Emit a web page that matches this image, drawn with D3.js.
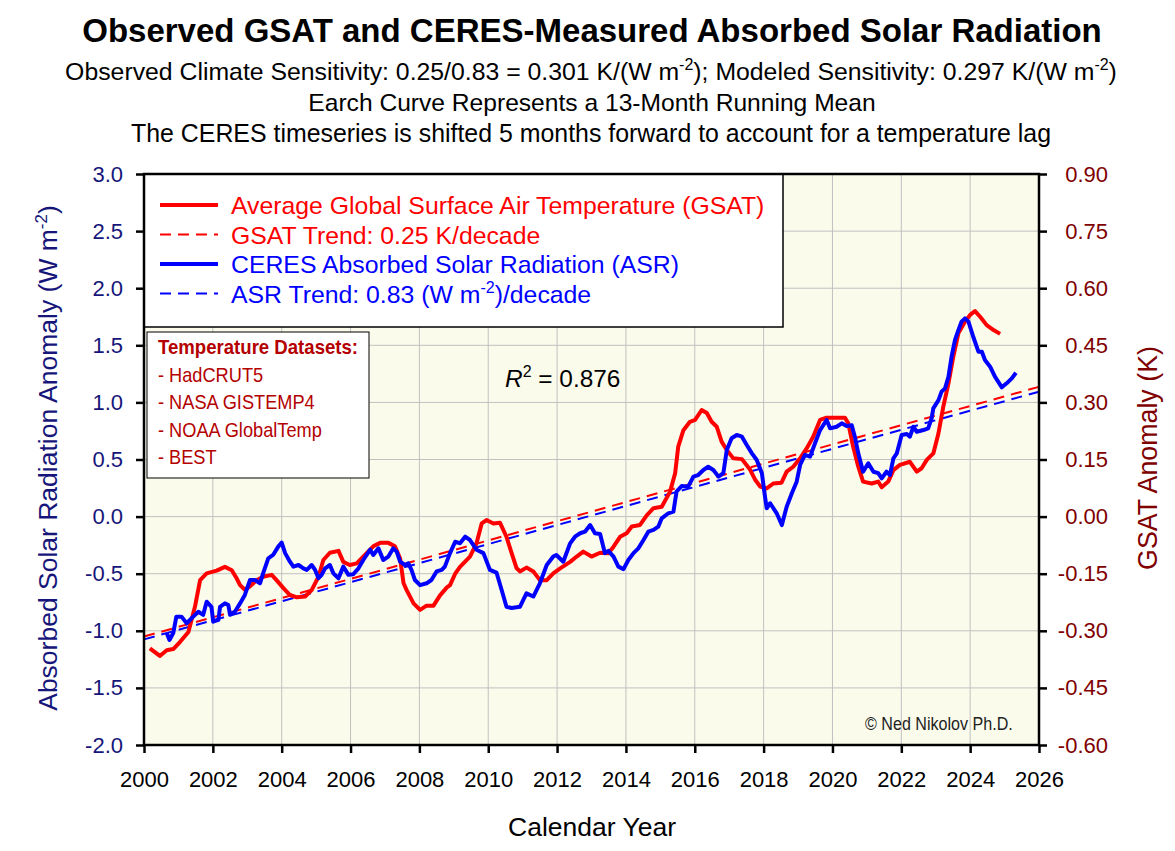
<!DOCTYPE html>
<html>
<head>
<meta charset="utf-8">
<script src="https://cdn.jsdelivr.net/npm/d3@7"></script>
<style>
	body { margin: 0; background: #fff; }
	text { font-family: "Liberation Sans", Arial, sans-serif; }
</style>
</head>
<body>
<div id="svg_container"></div>
<script>
/* -----------------------
data
------------------------- */

// 13-month running mean of GSAT (K)
var gsatYears = [2000.17,2000.46,2000.66,2000.85,2001.05,2001.29,2001.48,2001.63,2001.82,2002.11,2002.35,2002.55,2002.69,2002.79,2002.93,2003.08,2003.27,2003.46,2003.71,2003.85,2004.05,2004.24,2004.44,2004.68,2004.87,2005.07,2005.21,2005.40,2005.65,2005.79,2005.98,2006.18,2006.37,2006.66,2006.86,2007.10,2007.29,2007.44,2007.54,2007.63,2007.83,2008.02,2008.21,2008.41,2008.60,2008.80,2008.89,2009.04,2009.18,2009.47,2009.66,2009.81,2009.95,2010.15,2010.34,2010.53,2010.68,2010.82,2010.92,2011.11,2011.31,2011.50,2011.70,2011.89,2012.09,2012.38,2012.57,2012.76,2013.00,2013.25,2013.49,2013.64,2013.83,2014.02,2014.17,2014.41,2014.61,2014.80,2015.04,2015.28,2015.43,2015.52,2015.67,2015.86,2016.01,2016.20,2016.35,2016.49,2016.64,2016.78,2016.93,2017.12,2017.37,2017.61,2017.76,2017.90,2018.09,2018.28,2018.52,2018.67,2018.86,2019.06,2019.25,2019.44,2019.64,2019.83,2020.12,2020.36,2020.46,2020.60,2020.75,2020.89,2021.14,2021.33,2021.43,2021.62,2021.77,2021.96,2022.25,2022.45,2022.59,2022.74,2022.93,2023.08,2023.22,2023.37,2023.51,2023.66,2023.85,2024.00,2024.14,2024.29,2024.48,2024.68,2024.87];
var gsatK = [-0.346,-0.366,-0.351,-0.348,-0.329,-0.303,-0.237,-0.167,-0.149,-0.142,-0.132,-0.141,-0.162,-0.180,-0.192,-0.183,-0.167,-0.158,-0.153,-0.167,-0.188,-0.206,-0.212,-0.210,-0.193,-0.158,-0.114,-0.095,-0.090,-0.119,-0.127,-0.123,-0.105,-0.078,-0.069,-0.069,-0.078,-0.110,-0.175,-0.193,-0.228,-0.245,-0.234,-0.234,-0.207,-0.186,-0.180,-0.150,-0.132,-0.105,-0.070,-0.018,-0.009,-0.018,-0.016,-0.053,-0.096,-0.135,-0.144,-0.134,-0.144,-0.167,-0.167,-0.149,-0.136,-0.119,-0.105,-0.092,-0.105,-0.095,-0.096,-0.079,-0.053,-0.044,-0.026,-0.022,0.004,0.022,0.026,0.065,0.114,0.184,0.227,0.249,0.254,0.280,0.272,0.249,0.236,0.197,0.175,0.153,0.151,0.123,0.096,0.079,0.074,0.087,0.089,0.118,0.131,0.153,0.179,0.210,0.254,0.260,0.260,0.260,0.245,0.184,0.131,0.092,0.087,0.092,0.077,0.092,0.122,0.136,0.144,0.118,0.127,0.149,0.166,0.219,0.289,0.350,0.420,0.482,0.512,0.530,0.540,0.525,0.503,0.490,0.480];

// 13-month running mean of CERES ASR anomaly (W m-2), shifted 5 months
var asrYears = [2000.66,2000.74,2000.85,2000.94,2001.09,2001.24,2001.43,2001.58,2001.72,2001.82,2001.96,2002.01,2002.16,2002.21,2002.35,2002.45,2002.50,2002.64,2002.79,2002.93,2003.08,2003.22,2003.37,2003.46,2003.61,2003.75,2003.90,2004.00,2004.10,2004.24,2004.34,2004.49,2004.63,2004.73,2004.87,2004.97,2005.07,2005.16,2005.26,2005.40,2005.50,2005.65,2005.79,2005.94,2006.08,2006.23,2006.37,2006.57,2006.66,2006.81,2006.95,2007.10,2007.24,2007.34,2007.44,2007.58,2007.68,2007.77,2007.87,2008.02,2008.21,2008.35,2008.50,2008.65,2008.74,2008.89,2009.04,2009.18,2009.33,2009.47,2009.66,2009.86,2010.05,2010.24,2010.39,2010.53,2010.68,2010.92,2011.11,2011.31,2011.50,2011.70,2011.89,2011.98,2012.18,2012.38,2012.52,2012.67,2012.81,2012.96,2013.10,2013.25,2013.39,2013.49,2013.64,2013.78,2013.93,2014.07,2014.22,2014.36,2014.51,2014.65,2014.80,2014.94,2015.04,2015.23,2015.38,2015.47,2015.62,2015.81,2015.96,2016.10,2016.25,2016.39,2016.54,2016.69,2016.83,2016.93,2017.07,2017.22,2017.37,2017.51,2017.66,2017.80,2017.95,2018.04,2018.09,2018.19,2018.38,2018.53,2018.67,2018.82,2018.96,2019.06,2019.20,2019.35,2019.49,2019.64,2019.83,2019.93,2020.12,2020.27,2020.41,2020.56,2020.65,2020.75,2020.89,2021.04,2021.19,2021.33,2021.43,2021.57,2021.67,2021.77,2021.87,2022.01,2022.16,2022.25,2022.35,2022.45,2022.64,2022.78,2022.88,2022.93,2023.08,2023.17,2023.27,2023.37,2023.46,2023.56,2023.66,2023.75,2023.85,2023.95,2024.09,2024.24,2024.34,2024.43,2024.58,2024.72,2024.92,2025.06,2025.21,2025.33];
var asrValues = [-1.02,-1.08,-1.02,-0.876,-0.876,-0.934,-0.876,-0.833,-0.86,-0.745,-0.79,-0.92,-0.905,-0.79,-0.76,-0.774,-0.86,-0.833,-0.76,-0.686,-0.555,-0.555,-0.584,-0.497,-0.365,-0.336,-0.263,-0.228,-0.32,-0.395,-0.438,-0.424,-0.453,-0.467,-0.424,-0.467,-0.54,-0.51,-0.453,-0.424,-0.497,-0.54,-0.438,-0.51,-0.505,-0.453,-0.38,-0.29,-0.336,-0.278,-0.38,-0.35,-0.278,-0.307,-0.395,-0.424,-0.41,-0.467,-0.555,-0.60,-0.584,-0.555,-0.48,-0.467,-0.438,-0.32,-0.22,-0.234,-0.176,-0.205,-0.29,-0.32,-0.467,-0.49,-0.643,-0.79,-0.80,-0.79,-0.672,-0.70,-0.584,-0.424,-0.35,-0.336,-0.395,-0.234,-0.176,-0.146,-0.132,-0.074,-0.146,-0.152,-0.32,-0.30,-0.35,-0.438,-0.46,-0.38,-0.32,-0.278,-0.205,-0.132,-0.117,-0.088,-0.015,0.029,0.043,0.218,0.268,0.262,0.35,0.364,0.408,0.437,0.408,0.35,0.38,0.583,0.686,0.715,0.70,0.627,0.554,0.496,0.38,0.175,0.073,0.117,0.029,-0.074,0.087,0.204,0.306,0.452,0.54,0.525,0.64,0.758,0.846,0.773,0.787,0.817,0.793,0.80,0.70,0.554,0.393,0.467,0.393,0.38,0.335,0.393,0.364,0.51,0.554,0.715,0.723,0.70,0.787,0.743,0.758,0.773,0.86,0.948,1.02,1.094,1.123,1.225,1.40,1.547,1.634,1.707,1.736,1.707,1.575,1.444,1.444,1.371,1.313,1.225,1.132,1.167,1.21,1.26];

// linear trends (end points)
var trendYears = [2000, 2026];
var gsatTrendK = [-0.315, 0.341];
var asrTrend = [-1.075, 1.094];

var xTicks = d3.range(2000, 2027, 2);
var yTicksLeft = [-2.0,-1.5,-1.0,-0.5,0.0,0.5,1.0,1.5,2.0,2.5,3.0];
var yTicksRight = [-0.60,-0.45,-0.30,-0.15,0.00,0.15,0.30,0.45,0.60,0.75,0.90];

var datasets = ['- HadCRUT5', '- NASA GISTEMP4', '- NOAA GlobalTemp', '- BEST'];

/* -----------------------
main variables
------------------------- */

var width = 1175;
var height = 851;
var margin = {top: 174, right: 136, bottom: 106, left: 144};
var plot_w = width - margin.left - margin.right;
var plot_h = height - margin.top - margin.bottom;

var red = '#ff0000';
var blue = '#0000ff';
var navy = '#16167a';
var maroon = '#800000';
var darkred = '#b40000';

var x = d3.scaleLinear().domain([2000, 2026]).range([0, plot_w]);
var yL = d3.scaleLinear().domain([-2, 3]).range([plot_h, 0]);
var yR = d3.scaleLinear().domain([-0.6, 0.9]).range([plot_h, 0]);

/* -----------------------
set plot
------------------------- */

var svg = d3.select('#svg_container')
	.append('svg')
	.attr('width', width)
	.attr('height', height);

var plot = svg.append('g')
	.attr('transform', 'translate(' + margin.left + ',' + margin.top + ')');

plot.append('rect')
	.attr('width', plot_w)
	.attr('height', plot_h)
	.attr('fill', '#fbfbec');

// grid
plot.append('g').selectAll('line')
	.data(xTicks)
	.enter()
	.append('line')
	.attr('x1', function(d) { return x(d); })
	.attr('x2', function(d) { return x(d); })
	.attr('y1', 0)
	.attr('y2', plot_h)
	.attr('stroke', '#c0c0c0');

plot.append('g').selectAll('line')
	.data(yTicksLeft)
	.enter()
	.append('line')
	.attr('x1', 0)
	.attr('x2', plot_w)
	.attr('y1', function(d) { return yL(d); })
	.attr('y2', function(d) { return yL(d); })
	.attr('stroke', '#c0c0c0');

/* -----------------------
axes
------------------------- */

var xAxis = plot.append('g')
	.attr('transform', 'translate(0,' + plot_h + ')')
	.call(d3.axisBottom(x).tickValues(xTicks).tickFormat(d3.format('d')).tickSize(8).tickPadding(18));

var leftAxis = plot.append('g')
	.call(d3.axisLeft(yL).tickValues(yTicksLeft).tickFormat(function(d) { return d.toFixed(1); }).tickSize(8).tickPadding(13));

var rightAxis = plot.append('g')
	.attr('transform', 'translate(' + plot_w + ',0)')
	.call(d3.axisRight(yR).tickValues(yTicksRight).tickFormat(function(d) { return d.toFixed(2); }).tickSize(8).tickPadding(18));

svg.selectAll('.domain').remove();
svg.selectAll('.tick line').attr('stroke', '#000').attr('stroke-width', 2.5);
svg.selectAll('.tick text').attr('font-size', 22).attr('font-family', '"Liberation Sans", Arial, sans-serif');
xAxis.selectAll('.tick text').attr('fill', '#000');
leftAxis.selectAll('.tick text').attr('fill', navy);
rightAxis.selectAll('.tick text').attr('fill', maroon).attr('text-anchor', 'end').attr('x', 69);

/* -----------------------
lines
------------------------- */

var gsatData = gsatYears.map(function(d, i) { return [d, gsatK[i]]; });
var asrData = asrYears.map(function(d, i) { return [d, asrValues[i]]; });

var lineR = d3.line().x(function(d) { return x(d[0]); }).y(function(d) { return yR(d[1]); });
var lineL = d3.line().x(function(d) { return x(d[0]); }).y(function(d) { return yL(d[1]); });

var lines = plot.append('g');

lines.append('path')
	.datum(trendYears.map(function(d, i) { return [d, gsatTrendK[i]]; }))
	.attr('d', lineR)
	.attr('fill', 'none')
	.attr('stroke', red)
	.attr('stroke-width', 2)
	.attr('stroke-dasharray', '11,7');

lines.append('path')
	.datum(trendYears.map(function(d, i) { return [d, asrTrend[i]]; }))
	.attr('d', lineL)
	.attr('fill', 'none')
	.attr('stroke', blue)
	.attr('stroke-width', 2)
	.attr('stroke-dasharray', '11,7');

lines.append('path')
	.datum(gsatData)
	.attr('d', lineR)
	.attr('fill', 'none')
	.attr('stroke', red)
	.attr('stroke-width', 4)
	.attr('stroke-linejoin', 'round');

lines.append('path')
	.datum(asrData)
	.attr('d', lineL)
	.attr('fill', 'none')
	.attr('stroke', blue)
	.attr('stroke-width', 4)
	.attr('stroke-linejoin', 'round');

/* --- legend --- */
/* -------------- */

var legend = plot.append('g');

legend.append('rect')
	.attr('x', 0)
	.attr('y', 0)
	.attr('width', 639)
	.attr('height', 153)
	.attr('fill', '#fff')
	.attr('stroke', '#000')
	.attr('stroke-width', 1.5);

var legendItems = [
	{label: 'Average Global Surface Air Temperature (GSAT)', color: red, dash: null, w: 4},
	{label: 'GSAT Trend: 0.25 K/decade', color: red, dash: '11,7', w: 2},
	{label: 'CERES Absorbed Solar Radiation (ASR)', color: blue, dash: null, w: 4},
	{label: 'ASR Trend: 0.83 (W m', color: blue, dash: '11,7', w: 2, sup: '-2', tail: ')/decade'}
];

var item = legend.selectAll('.item')
	.data(legendItems)
	.enter()
	.append('g')
	.attr('transform', function(d, i) { return 'translate(0,' + (31 + i * 29.5) + ')'; });

item.append('line')
	.attr('x1', 16)
	.attr('x2', 74)
	.attr('stroke', function(d) { return d.color; })
	.attr('stroke-width', function(d) { return d.w; })
	.attr('stroke-dasharray', function(d) { return d.dash; });

var itemText = item.append('text')
	.attr('x', 87)
	.attr('y', 9)
	.attr('font-size', 24.8)
	.attr('fill', function(d) { return d.color; })
	.text(function(d) { return d.label; });

itemText.filter(function(d) { return d.sup; })
	.append('tspan').attr('dy', -10).attr('font-size', 16).text(function(d) { return d.sup; });
itemText.filter(function(d) { return d.sup; })
	.append('tspan').attr('dy', 10).text(function(d) { return d.tail; });

/* --- datasets box --- */

var dbox = plot.append('g').attr('transform', 'translate(3,158)');

dbox.append('rect')
	.attr('width', 222)
	.attr('height', 146)
	.attr('fill', '#fff')
	.attr('stroke', '#000')
	.attr('stroke-width', 1);

// no narrow face installed: squeeze the regular one
dbox.append('text')
	.attr('transform', 'translate(11,22) scale(0.93,1)')
	.attr('font-size', 20)
	.attr('font-weight', 'bold')
	.attr('fill', darkred)
	.text('Temperature Datasets:');

dbox.selectAll('.ds')
	.data(datasets)
	.enter()
	.append('text')
	.attr('transform', function(d, i) { return 'translate(11,' + (50 + i * 27.3) + ') scale(0.91,1)'; })
	.attr('font-size', 20)
	.attr('fill', darkred)
	.text(function(d) { return d; });

/* --- R2 and credit --- */

var r2 = plot.append('text')
	.attr('x', 361)
	.attr('y', 213)
	.attr('font-size', 24.4)
	.attr('fill', '#000');
r2.append('tspan').attr('font-style', 'italic').text('R');
r2.append('tspan').attr('dy', -10).attr('font-size', 16).text('2');
r2.append('tspan').attr('dy', 10).text(' = 0.876');

plot.append('text')
	.attr('transform', 'translate(721,556) scale(0.92,1)')
	.attr('font-size', 17.5)
	.attr('fill', '#222')
	.text('\u00a9 Ned Nikolov  Ph.D.');

// frame
plot.append('rect')
	.attr('width', plot_w)
	.attr('height', plot_h)
	.attr('fill', 'none')
	.attr('stroke', '#000')
	.attr('stroke-width', 2.5);

/* -----------------------
titles
------------------------- */

svg.append('text')
	.attr('x', 592)
	.attr('y', 42)
	.attr('text-anchor', 'middle')
	.attr('font-size', 33)
	.attr('font-weight', 'bold')
	.text('Observed GSAT and CERES-Measured Absorbed Solar Radiation');

var sub1 = svg.append('text')
	.attr('x', 591)
	.attr('y', 80)
	.attr('text-anchor', 'middle')
	.attr('font-size', 24.8);
sub1.append('tspan').text('Observed Climate Sensitivity: 0.25/0.83 = 0.301 K/(W m');
sub1.append('tspan').attr('dy', -10).attr('font-size', 16).text('-2');
sub1.append('tspan').attr('dy', 10).text('); Modeled Sensitivity: 0.297 K/(W m');
sub1.append('tspan').attr('dy', -10).attr('font-size', 16).text('-2');
sub1.append('tspan').attr('dy', 10).text(')');

svg.append('text')
	.attr('x', 592)
	.attr('y', 111)
	.attr('text-anchor', 'middle')
	.attr('font-size', 24.6)
	.text('Earch Curve Represents a 13-Month Running Mean');

svg.append('text')
	.attr('x', 591)
	.attr('y', 142)
	.attr('text-anchor', 'middle')
	.attr('font-size', 24.9)
	.text('The CERES timeseries is shifted 5 months forward to account for a temperature lag');

svg.append('text')
	.attr('x', 592)
	.attr('y', 836)
	.attr('text-anchor', 'middle')
	.attr('font-size', 26.5)
	.text('Calendar Year');

var yl = svg.append('text')
	.attr('transform', 'translate(57,458) rotate(-90)')
	.attr('text-anchor', 'middle')
	.attr('font-size', 26.5)
	.attr('fill', navy);
yl.append('tspan').text('Absorbed Solar Radiation Anomaly (W m');
yl.append('tspan').attr('dy', -10).attr('font-size', 17).text('-2');
yl.append('tspan').attr('dy', 10).text(')');

svg.append('text')
	.attr('transform', 'translate(1157,458) rotate(-90)')
	.attr('text-anchor', 'middle')
	.attr('font-size', 26.8)
	.attr('fill', maroon)
	.text('GSAT Anomaly (K)');
</script>
</body>
</html>
